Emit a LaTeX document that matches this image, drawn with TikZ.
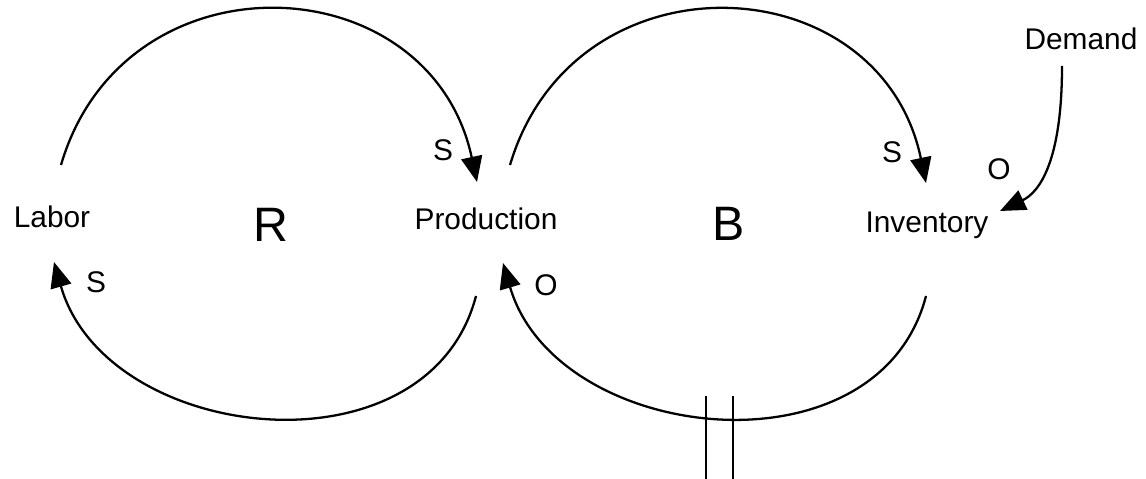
\documentclass[tikz,border=0pt]{standalone}
\usepackage{fontspec}
\setmainfont{Liberation Sans}
\usetikzlibrary{arrows.meta}
\begin{document}
\begin{tikzpicture}[x=.02cm,y=-.02cm,line width=1.3pt,
  every node/.style={inner sep=0pt,anchor=base},
  lbl/.style={font=\fontsize{17}{20}\selectfont},
  loopmark/.style={font=\fontsize{27.5}{32}\selectfont},
  link/.style={-{Triangle[length=14.5pt,width=12pt]}}]
  \path[use as bounding box] (0,0) rectangle (1146,479);
  % variables
  \node[lbl] (labor) at (52,228) {Labor};
  \node[lbl] (prod) at (486,230) {Production};
  \node[lbl] (inv) at (927,233) {Inventory};
  \node[lbl] (dem) at (1081,50) {Demand};
  \node[loopmark] (R) at (271,242) {R};
  \node[loopmark] (B) at (729,241) {B};
  % arc ends
  \coordinate (laborT) at (61,165);
  \coordinate (laborB) at (54,262);
  \coordinate (prodTin) at (477,182);
  \coordinate (prodTout) at (510,165);
  \coordinate (prodBout) at (476,296);
  \coordinate (prodBin) at (503,263);
  \coordinate (invT) at (926,183);
  \coordinate (invB) at (926,296);
  \coordinate (demB) at (1062,66);
  \coordinate (invR) at (1000,211);
  % links
  \draw[link] (laborT) .. controls (124,-50) and (430,-37) .. (prodTin);
  \draw[link] (prodBout) .. controls (428,480) and (106,444) .. (laborB);
  \draw[link] (prodTout) .. controls (574,-50) and (880,-37) .. (invT);
  \draw[link] (invB) .. controls (878,480) and (556,444) .. (prodBin);
  \draw[link] (demB) .. controls (1062,160) and (1040,192) .. (invR);
  % delay
  \draw (706,396) -- (706,479) (733,396) -- (733,479);
  % polarities
  \node[lbl] (s1) at (443,161) {S};
  \node[lbl] (s2) at (96,293) {S};
  \node[lbl] (o1) at (546,296) {O};
  \node[lbl] (s3) at (892,163) {S};
  \node[lbl] (o2) at (999,180) {O};
\end{tikzpicture}
\end{document}
